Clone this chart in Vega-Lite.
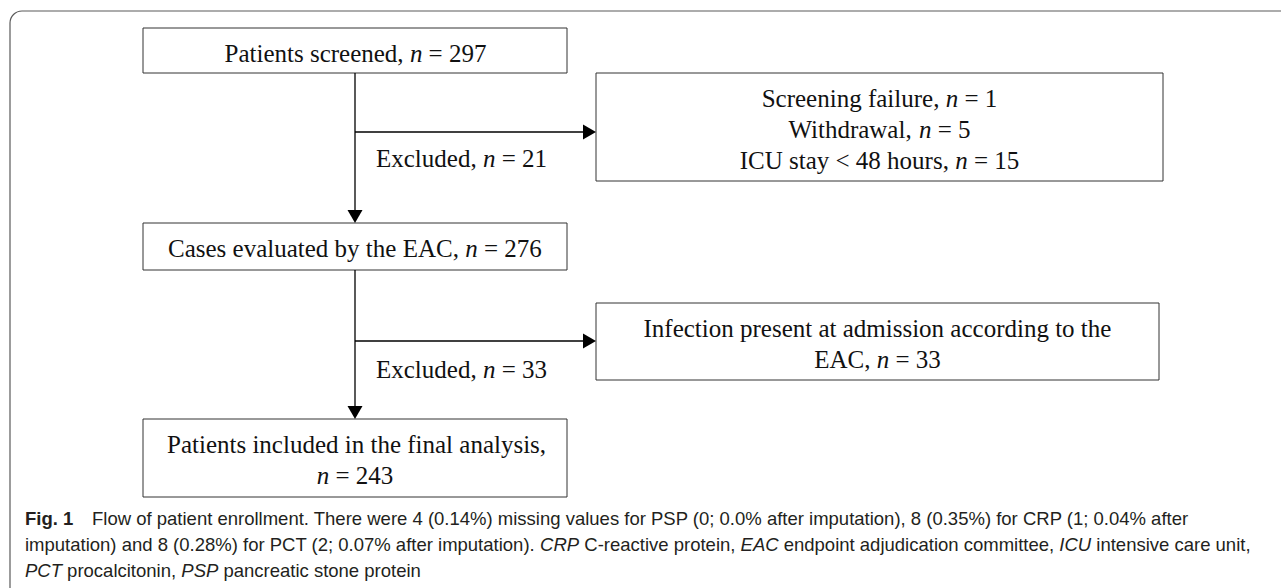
{
  "$schema": "https://vega.github.io/schema/vega-lite/v6.json",
  "width": 1281,
  "height": 588,
  "autosize": {"type": "fit", "contains": "padding"},
  "padding": 0,
  "background": "white",
  "config": {"view": {"stroke": null}},
  "datasets": {
    "frame": [{"x1": 10, "x2": 1300, "y1": 11, "y2": 620}],
    "boxes": [
      {"x1": 143, "x2": 567, "y1": 28, "y2": 73},
      {"x1": 143, "x2": 567, "y1": 223, "y2": 270},
      {"x1": 143, "x2": 567, "y1": 419, "y2": 497},
      {"x1": 596, "x2": 1163, "y1": 73, "y2": 181},
      {"x1": 596, "x2": 1159, "y1": 303, "y2": 380}
    ],
    "lines": [
      {"x1": 355, "y1": 73, "x2": 355, "y2": 218},
      {"x1": 355, "y1": 132, "x2": 590, "y2": 132},
      {"x1": 355, "y1": 270, "x2": 355, "y2": 414},
      {"x1": 355, "y1": 341, "x2": 590, "y2": 341}
    ],
    "arrowsDown": [{"x": 355, "y": 216.5}, {"x": 355, "y": 412.5}],
    "arrowsRight": [{"x": 589.5, "y": 132}, {"x": 589.5, "y": 341}],
    "boxText": [
      {"x": 224.5, "y": 62, "t": "Patients screened,"},
      {"x": 428.6, "y": 62, "t": "= 297"},
      {"x": 376, "y": 167, "t": "Excluded,"},
      {"x": 501.7, "y": 167, "t": "= 21"},
      {"x": 168, "y": 257, "t": "Cases evaluated by the EAC,"},
      {"x": 483.9, "y": 257, "t": "= 276"},
      {"x": 376, "y": 378, "t": "Excluded,"},
      {"x": 501.7, "y": 378, "t": "= 33"},
      {"x": 167, "y": 453, "t": "Patients included in the final analysis,"},
      {"x": 335.5, "y": 484, "t": "= 243"},
      {"x": 761.7, "y": 106.5, "t": "Screening failure,"},
      {"x": 964.4, "y": 106.5, "t": "= 1"},
      {"x": 788.4, "y": 137.5, "t": "Withdrawal,"},
      {"x": 937.7, "y": 137.5, "t": "= 5"},
      {"x": 739.7, "y": 168.5, "t": "ICU stay < 48 hours,"},
      {"x": 973.9, "y": 168.5, "t": "= 15"},
      {"x": 643.5, "y": 337, "t": "Infection present at admission according to the"},
      {"x": 814.2, "y": 368, "t": "EAC,"},
      {"x": 895.4, "y": 368, "t": "= 33"}
    ],
    "boxItalic": [
      {"x": 409.9, "y": 62, "t": "n"},
      {"x": 482.9, "y": 167, "t": "n"},
      {"x": 465.2, "y": 257, "t": "n"},
      {"x": 482.9, "y": 378, "t": "n"},
      {"x": 316.7, "y": 484, "t": "n"},
      {"x": 945.7, "y": 106.5, "t": "n"},
      {"x": 918.9, "y": 137.5, "t": "n"},
      {"x": 955.2, "y": 168.5, "t": "n"},
      {"x": 876.7, "y": 368, "t": "n"}
    ],
    "capBold": [{"x": 25, "y": 525, "t": "Fig. 1"}],
    "capText": [
      {"x": 92, "y": 525, "t": "Flow of patient enrollment. There were 4 (0.14%) missing values for PSP (0; 0.0% after imputation), 8 (0.35%) for CRP (1; 0.04% after"},
      {"x": 25, "y": 551, "t": "imputation) and 8 (0.28%) for PCT (2; 0.07% after imputation)."},
      {"x": 584.3, "y": 551, "t": "C-reactive protein,"},
      {"x": 783.7, "y": 551, "t": "endpoint adjudication committee,"},
      {"x": 1096.3, "y": 551, "t": "intensive care unit,"},
      {"x": 67.1, "y": 577, "t": "procalcitonin,"},
      {"x": 223.4, "y": 577, "t": "pancreatic stone protein"}
    ],
    "capItalic": [
      {"x": 540.1, "y": 551, "t": "CRP"},
      {"x": 740.6, "y": 551, "t": "EAC"},
      {"x": 1059.3, "y": 551, "t": "ICU"},
      {"x": 25, "y": 577, "t": "PCT"},
      {"x": 181.3, "y": 577, "t": "PSP"}
    ]
  },
  "layer": [
    {
      "data": {"name": "frame"},
      "mark": {"type": "rect", "clip": true, "fill": null, "fillOpacity": 0, "stroke": "#5a5a5a", "strokeWidth": 1.2, "cornerRadius": 12},
      "encoding": {
        "x": {"field": "x1", "type": "quantitative", "scale": {"domain": [0, 1281], "nice": false, "zero": false}, "axis": null},
        "x2": {"field": "x2"},
        "y": {"field": "y1", "type": "quantitative", "scale": {"domain": [0, 588], "nice": false, "zero": false, "reverse": true}, "axis": null},
        "y2": {"field": "y2"}
      }
    },
    {
      "data": {"name": "boxes"},
      "mark": {"type": "rect", "fill": "white", "stroke": "#333333", "strokeWidth": 1},
      "encoding": {
        "x": {"field": "x1", "type": "quantitative"},
        "x2": {"field": "x2"},
        "y": {"field": "y1", "type": "quantitative"},
        "y2": {"field": "y2"}
      }
    },
    {
      "data": {"name": "lines"},
      "mark": {"type": "rule", "color": "black", "strokeWidth": 1.3},
      "encoding": {
        "x": {"field": "x1", "type": "quantitative"},
        "x2": {"field": "x2"},
        "y": {"field": "y1", "type": "quantitative"},
        "y2": {"field": "y2"}
      }
    },
    {
      "data": {"name": "arrowsDown"},
      "mark": {"type": "point", "shape": "triangle-down", "filled": true, "color": "black", "size": 225, "opacity": 1, "strokeWidth": 0},
      "encoding": {
        "x": {"field": "x", "type": "quantitative"},
        "y": {"field": "y", "type": "quantitative"}
      }
    },
    {
      "data": {"name": "arrowsRight"},
      "mark": {"type": "point", "shape": "triangle-right", "filled": true, "color": "black", "size": 225, "opacity": 1, "strokeWidth": 0},
      "encoding": {
        "x": {"field": "x", "type": "quantitative"},
        "y": {"field": "y", "type": "quantitative"}
      }
    },
    {
      "data": {"name": "boxText"},
      "mark": {"type": "text", "align": "left", "baseline": "alphabetic", "font": "Liberation Serif", "fontSize": 25, "color": "#111111"},
      "encoding": {
        "x": {"field": "x", "type": "quantitative"},
        "y": {"field": "y", "type": "quantitative"},
        "text": {"field": "t"}
      }
    },
    {
      "data": {"name": "boxItalic"},
      "mark": {"type": "text", "align": "left", "baseline": "alphabetic", "font": "Liberation Serif", "fontSize": 25, "fontStyle": "italic", "color": "#111111"},
      "encoding": {
        "x": {"field": "x", "type": "quantitative"},
        "y": {"field": "y", "type": "quantitative"},
        "text": {"field": "t"}
      }
    },
    {
      "data": {"name": "capBold"},
      "mark": {"type": "text", "align": "left", "baseline": "alphabetic", "font": "Liberation Sans", "fontSize": 18.5, "fontWeight": "bold", "color": "#231f20"},
      "encoding": {
        "x": {"field": "x", "type": "quantitative"},
        "y": {"field": "y", "type": "quantitative"},
        "text": {"field": "t"}
      }
    },
    {
      "data": {"name": "capText"},
      "mark": {"type": "text", "align": "left", "baseline": "alphabetic", "font": "Liberation Sans", "fontSize": 18.5, "color": "#231f20"},
      "encoding": {
        "x": {"field": "x", "type": "quantitative"},
        "y": {"field": "y", "type": "quantitative"},
        "text": {"field": "t"}
      }
    },
    {
      "data": {"name": "capItalic"},
      "mark": {"type": "text", "align": "left", "baseline": "alphabetic", "font": "Liberation Sans", "fontSize": 18.5, "fontStyle": "italic", "color": "#231f20"},
      "encoding": {
        "x": {"field": "x", "type": "quantitative"},
        "y": {"field": "y", "type": "quantitative"},
        "text": {"field": "t"}
      }
    }
  ]
}
